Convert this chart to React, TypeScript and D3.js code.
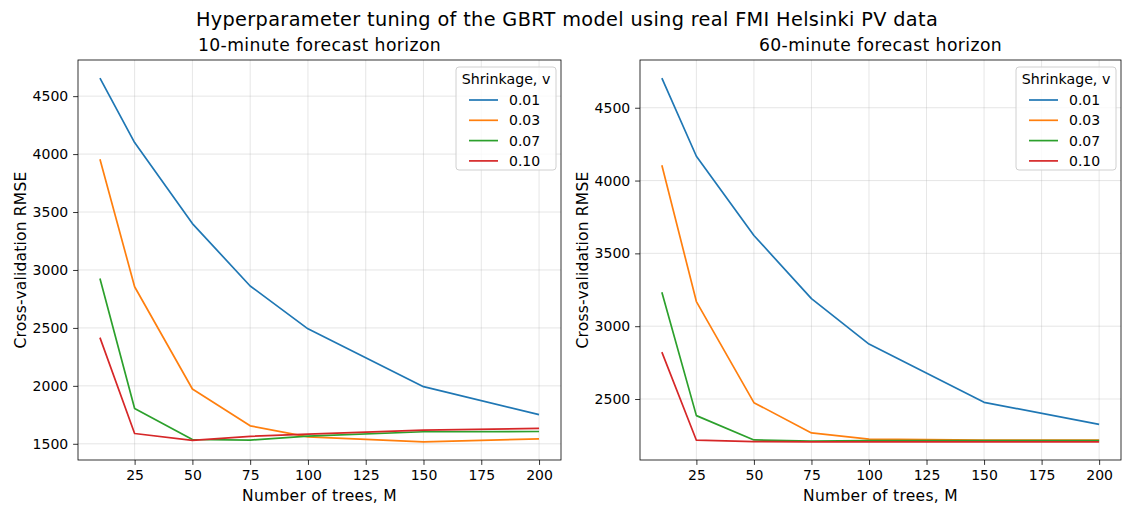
import React from 'react';
import * as d3 from 'd3';

const nTrees = [10, 25, 50, 75, 100, 150, 200];
const xTicks = [25, 50, 75, 100, 125, 150, 175, 200];
const shrinkage = ['0.01', '0.03', '0.07', '0.10'];
const colors = ['#1f77b4', '#ff7f0e', '#2ca02c', '#d62728'];

// 10-minute horizon
const rmse10_v001 = [4655, 4099, 3400, 2862, 2492, 1993, 1752];
const rmse10_v003 = [3956, 2855, 1973, 1655, 1560, 1517, 1543];
const rmse10_v007 = [2926, 1804, 1537, 1532, 1566, 1604, 1606];
const rmse10_v010 = [2416, 1589, 1529, 1564, 1584, 1618, 1633];

// 60-minute horizon
const rmse60_v001 = [4703, 4167, 3623, 3189, 2877, 2477, 2326];
const rmse60_v003 = [4105, 3169, 2475, 2267, 2224, 2217, 2217];
const rmse60_v007 = [3233, 2386, 2219, 2211, 2215, 2215, 2215];
const rmse60_v010 = [2822, 2217, 2208, 2206, 2206, 2206, 2206];

const yTicks10 = [1500, 2000, 2500, 3000, 3500, 4000, 4500];
const yTicks60 = [2500, 3000, 3500, 4000, 4500];

const FONT = 'DejaVu Sans, Verdana, sans-serif';

const Panel = ({ id, left, top, width, height, title, series, yTicks }) => {
  React.useEffect(() => {
    const root = d3.select(`#${id}`);
    root.selectAll('*').remove();
    const g = root.append('g').attr('transform', `translate(${left},${top})`);

    const x = d3.scaleLinear().domain([10 - 9.5, 200 + 9.5]).range([0, width]);
    const all = series.flat();
    const lo = d3.min(all), hi = d3.max(all);
    const pad = (hi - lo) * 0.05;
    const y = d3.scaleLinear().domain([lo - pad, hi + pad]).range([height, 0]);

    // grid
    g.selectAll('.gx').data(xTicks).enter().append('line')
      .attr('x1', d => x(d)).attr('x2', d => x(d))
      .attr('y1', 0).attr('y2', height)
      .attr('stroke', '#b0b0b0').attr('stroke-opacity', 0.4).attr('stroke-width', 0.8);
    g.selectAll('.gy').data(yTicks).enter().append('line')
      .attr('x1', 0).attr('x2', width)
      .attr('y1', d => y(d)).attr('y2', d => y(d))
      .attr('stroke', '#b0b0b0').attr('stroke-opacity', 0.4).attr('stroke-width', 0.8);

    // lines
    const line = d3.line().x((d, i) => x(nTrees[i])).y(d => y(d));
    series.forEach((s, k) => {
      g.append('path').datum(s)
        .attr('d', line)
        .attr('fill', 'none')
        .attr('stroke', colors[k])
        .attr('stroke-width', 1.7)
        .attr('stroke-linejoin', 'round');
    });

    // axes
    const xAxis = g.append('g').attr('transform', `translate(0,${height})`)
      .call(d3.axisBottom(x).tickValues(xTicks).tickFormat(d3.format('d')).tickSize(4.9).tickPadding(4.9));
    const yAxis = g.append('g')
      .call(d3.axisLeft(y).tickValues(yTicks).tickFormat(d3.format('d')).tickSize(4.9).tickPadding(4.9));
    [xAxis, yAxis].forEach(a => {
      a.select('.domain').remove();
      a.selectAll('line').attr('stroke', '#000').attr('stroke-width', 0.8);
      a.selectAll('text').attr('font-family', FONT).attr('font-size', 14).attr('fill', '#000');
    });

    // frame
    g.append('rect').attr('x', 0).attr('y', 0).attr('width', width).attr('height', height)
      .attr('fill', 'none').attr('stroke', '#000').attr('stroke-width', 0.8);

    // titles
    g.append('text').attr('x', width / 2).attr('y', -9.5)
      .attr('text-anchor', 'middle').attr('font-family', FONT).attr('font-size', 17.2)
      .attr('letter-spacing', 0.4)
      .text(title);
    g.append('text').attr('x', width / 2).attr('y', height + 41)
      .attr('text-anchor', 'middle').attr('font-family', FONT).attr('font-size', 15.5)
      .attr('letter-spacing', 0.3)
      .text('Number of trees, M');
    g.append('text')
      .attr('transform', `translate(${-52.5},${height / 2}) rotate(-90)`)
      .attr('text-anchor', 'middle').attr('font-family', FONT).attr('font-size', 15.5)
      .attr('letter-spacing', 0.2)
      .text('Cross-validation RMSE');

    // legend
    const lw = 100, lh = 103;
    const lg = g.append('g').attr('transform', `translate(${width - 5 - lw},7)`);
    lg.append('rect').attr('width', lw).attr('height', lh).attr('rx', 3)
      .attr('fill', '#fff').attr('fill-opacity', 0.8)
      .attr('stroke', '#d0d0d0').attr('stroke-width', 1);
    lg.append('text').attr('x', lw / 2).attr('y', 17)
      .attr('text-anchor', 'middle').attr('font-family', FONT).attr('font-size', 14.2)
      .text('Shrinkage, v');
    shrinkage.forEach((s, k) => {
      const cy = 33 + k * 20.3;
      lg.append('line').attr('x1', 13).attr('x2', 42).attr('y1', cy).attr('y2', cy)
        .attr('stroke', colors[k]).attr('stroke-width', 1.7);
      lg.append('text').attr('x', 53).attr('y', cy + 5)
        .attr('font-family', FONT).attr('font-size', 14)
        .text(s);
    });
  }, [id, left, top, width, height, title, series, yTicks]);

  return <g id={id}></g>;
};

export default function App() {
  return (
    <svg width={1123} height={507} style={{ position: 'absolute', left: 0, top: 0, background: '#fff' }}>
      <rect width={1123} height={507} fill="#fff" />
      <text x={567} y={26} textAnchor="middle" fontFamily={FONT} fontSize={19.3} letterSpacing={0.35}>
        Hyperparameter tuning of the GBRT model using real FMI Helsinki PV data
      </text>
      <Panel id="p10" left={78} top={60} width={483} height={400}
        title="10-minute forecast horizon"
        series={[rmse10_v001, rmse10_v003, rmse10_v007, rmse10_v010]}
        yTicks={yTicks10} />
      <Panel id="p60" left={640} top={60} width={481} height={400}
        title="60-minute forecast horizon"
        series={[rmse60_v001, rmse60_v003, rmse60_v007, rmse60_v010]}
        yTicks={yTicks60} />
    </svg>
  );
}
